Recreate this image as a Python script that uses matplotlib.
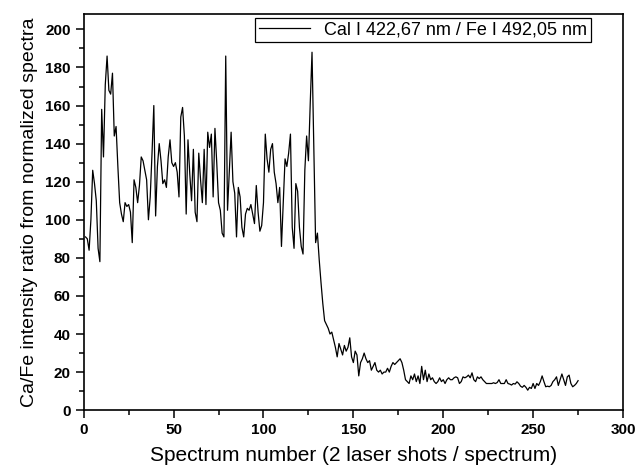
import numpy as np
import matplotlib
matplotlib.use('Agg')
import matplotlib.pyplot as plt
from matplotlib.ticker import MultipleLocator

plt.rcParams['font.family'] = ['Liberation Sans', 'DejaVu Sans']

# Ca/Fe ratio per spectrum, spectrum numbers 1..275
ratio = [
    91, 90, 84, 100, 126, 119, 110, 85, 78, 158,
    133, 171, 186, 168, 166, 177, 144, 149, 128, 109,
    103, 99, 109, 107, 108, 104, 88, 121, 117, 109,
    118, 133, 131, 126, 121, 100, 112, 135, 160, 102,
    128, 140, 131, 119, 121, 117, 133, 142, 130, 128,
    130, 125, 112, 154, 159, 144, 103, 142, 124, 110,
    137, 104, 99, 135, 121, 109, 137, 108, 146, 138,
    145, 112, 148, 130, 109, 105, 93, 91, 186, 105,
    125, 146, 120, 114, 91, 117, 112, 96, 91, 103,
    106, 105, 108, 103, 98, 118, 104, 94, 97, 109,
    145, 132, 125, 137, 140, 125, 119, 109, 117, 86,
    109, 132, 128, 135, 145, 96, 85, 119, 115, 96,
    86, 82, 126, 144, 131, 161, 188, 139, 88, 93,
    79, 67, 56, 47, 45, 43, 40, 41, 37, 33,
    28, 35, 32, 29, 34, 31, 33, 38, 28, 25,
    31, 29, 18, 25, 27, 30, 27, 25, 26, 21,
    23, 25, 21, 20, 21, 19, 20, 20, 22, 20,
    23, 25, 24, 25, 26, 27, 25, 21, 16, 15,
    14, 18, 16, 19, 15, 18, 14, 23, 16, 21,
    15, 19, 16, 17, 15, 14, 15, 17, 15, 16,
    14, 16, 17, 16, 16, 17, 17.5, 17, 14, 15,
    17.5, 17, 17.5, 18.4, 17, 19.6, 16, 15, 17.5, 16.6,
    17.5, 16, 15, 14, 14, 14, 14, 14.4, 14, 14.5,
    16, 14, 14, 14, 16, 14, 13.7, 13.2, 14, 13.7,
    14.9, 14, 12.6, 12, 13, 12, 10.5, 12, 11.4, 14,
    11.4, 14, 13, 15, 18, 15, 12.3, 12.6, 12.3, 13,
    15, 16, 17.5, 13, 16, 19, 16, 13, 17.5, 18.4,
    14, 12.3, 13, 14, 15.5,
]
spectrum = np.arange(1, len(ratio) + 1)

fig = plt.figure(figsize=(6.39, 4.72), dpi=100)
ax = fig.add_axes([0.131, 0.131, 0.844, 0.839])

ax.plot(spectrum, ratio, color='black', linewidth=0.9,
        label='Cal I 422,67 nm / Fe I 492,05 nm')

ax.set_xlim(0, 300)
ax.set_ylim(0, 208)
ax.xaxis.set_major_locator(MultipleLocator(50))
ax.xaxis.set_minor_locator(MultipleLocator(25))
ax.yaxis.set_major_locator(MultipleLocator(20))
ax.yaxis.set_minor_locator(MultipleLocator(10))
ax.tick_params(which='major', direction='out', length=6, width=1.1,
               labelsize=11)
ax.tick_params(which='minor', direction='out', length=3.5, width=1.1)
for lab in ax.get_xticklabels() + ax.get_yticklabels():
    lab.set_fontweight('bold')
for sp in ax.spines.values():
    sp.set_linewidth(1.2)

ax.set_xlabel('Spectrum number (2 laser shots / spectrum)', fontsize=15,
              labelpad=6)
ax.set_ylabel('Ca/Fe intensity ratio from normalized spectra', fontsize=14,
              labelpad=5)

leg = ax.legend(loc='upper right', bbox_to_anchor=(0.94, 0.99),
                borderaxespad=0, fontsize=13, fancybox=False,
                edgecolor='black', framealpha=1, handlelength=2.8,
                borderpad=0.2)
leg.get_frame().set_linewidth(0.9)

fig.savefig('out.png', dpi=100)
